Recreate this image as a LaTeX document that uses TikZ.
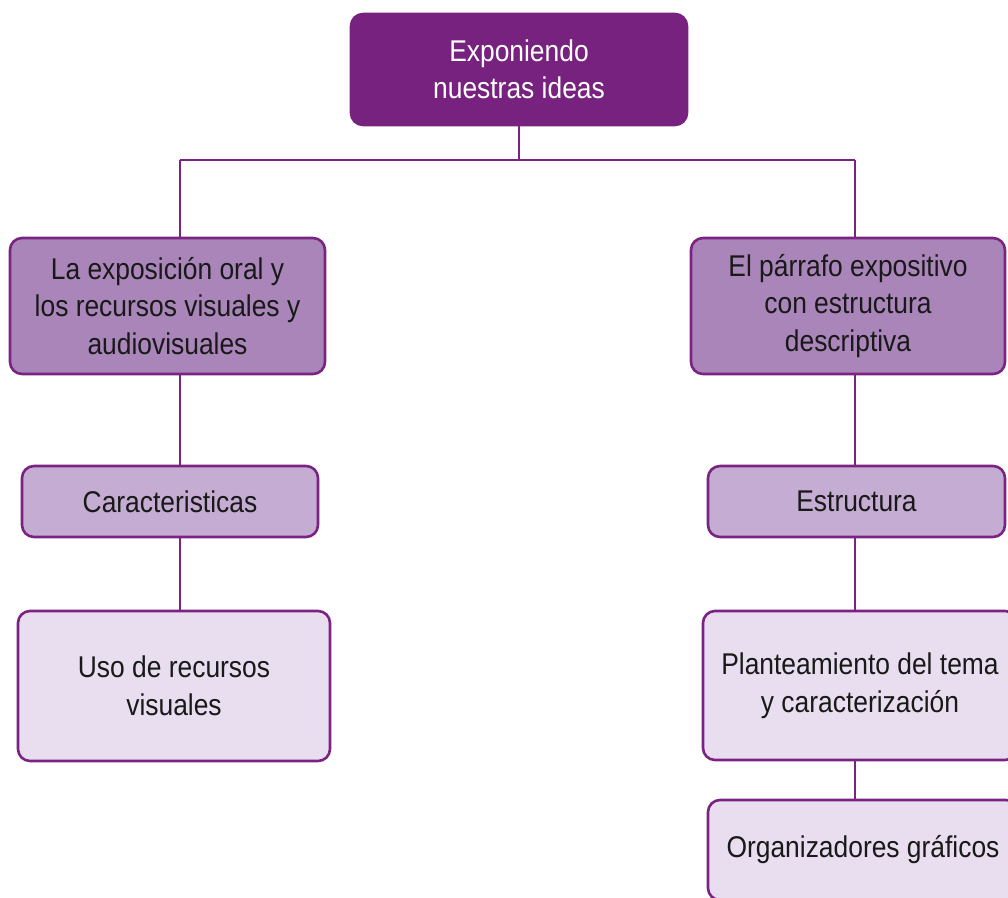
\documentclass[tikz,border=0pt]{standalone}
\usepackage{fontspec}
\setmainfont[FakeStretch=0.88]{Liberation Sans}
\definecolor{cdark}{HTML}{77227F}
\definecolor{cline}{HTML}{7B2382}
\definecolor{cmid}{HTML}{A985B9}
\definecolor{clight}{HTML}{C5ACD2}
\definecolor{cpale}{HTML}{E8DEEF}
\begin{document}
\begin{tikzpicture}[x=1pt,y=-1pt,
  box/.style={draw=cline,line width=2.6pt,rounded corners=12pt,align=center,
    inner sep=0pt,font=\fontsize{30}{37.5}\selectfont,text=black!90},
  topbox/.style={box,fill=cdark,draw=cdark,text=white},
  midbox/.style={box,fill=cmid},
  lightbox/.style={box,fill=clight},
  palebox/.style={box,fill=cpale},
  conn/.style={draw=cline,line width=2.6pt}]
\useasboundingbox (0,0) rectangle (1008,897);
\node[topbox,minimum width=336pt,minimum height=111pt] (top) at (519,69.5) {Exponiendo\\nuestras ideas};
\node[midbox,minimum width=315pt,minimum height=136pt] (L1) at (167.5,306) {La exposición oral y\\los recursos visuales y\\audiovisuales};
\node[midbox,minimum width=314pt,minimum height=136pt] (R1) at (848,306) {El párrafo expositivo\\con estructura\\descriptiva};
\node[lightbox,minimum width=296pt,minimum height=71pt] (L2) at (170,501.5) {Caracteristicas};
\node[lightbox,minimum width=297pt,minimum height=71pt] (R2) at (856.5,501.5) {Estructura};
\node[palebox,minimum width=312pt,minimum height=150pt] (L3) at (174,686) {Uso de recursos\\visuales};
\node[palebox,minimum width=314pt,minimum height=149pt] (R3) at (860,685.5) {Planteamiento del tema\\y caracterización};
\node[palebox,minimum width=310pt,minimum height=100pt] (R4) at (863,850) {Organizadores gráficos};
\coordinate (jl) at (180,160);
\coordinate (jr) at (855,160);
\draw[conn] (top.south) -- (top.south |- jl);
\draw[conn] (jl) -- (jr);
\draw[conn] (jl) -- (jl |- L1.north);
\draw[conn] (jr) -- (jr |- R1.north);
\draw[conn] (jl |- L1.south) -- (jl |- L2.north);
\draw[conn] (jl |- L2.south) -- (jl |- L3.north);
\draw[conn] (jr |- R1.south) -- (jr |- R2.north);
\draw[conn] (jr |- R2.south) -- (jr |- R3.north);
\draw[conn] (jr |- R3.south) -- (jr |- R4.north);
\end{tikzpicture}
\end{document}
